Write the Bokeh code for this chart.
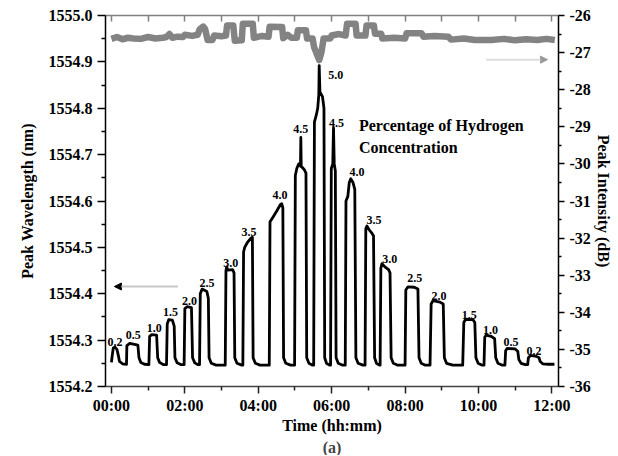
from bokeh.plotting import figure
from bokeh.models import (Range1d, LinearAxis, FixedTicker, PrintfTickFormatter,
                          Arrow, NormalHead)
from bokeh.core.properties import value
from bokeh.embed import file_html
from bokeh.resources import INLINE

FONT = "Liberation Serif"

# ---------------- data ----------------
# Peak wavelength trace (time in hours, wavelength in nm)
black_t = [0.00, 0.02, 0.05, 0.09, 0.15, 0.19, 0.22, 0.30, 0.41,
           0.42, 0.50, 0.72, 0.75, 0.80, 0.90, 1.02,
           1.04, 1.10, 1.23, 1.26, 1.31, 1.42, 1.50,
           1.52, 1.56, 1.66, 1.71, 1.73, 1.79, 1.90, 1.98,
           2.00, 2.06, 2.18, 2.21, 2.27, 2.36, 2.40,
           2.42, 2.47, 2.60, 2.64, 2.66, 2.72, 2.85, 3.10,
           3.12, 3.14, 3.17, 3.30, 3.34, 3.36, 3.42, 3.55, 3.58,
           3.60, 3.63, 3.70, 3.80, 3.84, 3.86, 3.92, 4.05, 4.30,
           4.32, 4.40, 4.50, 4.60, 4.64, 4.67, 4.69, 4.75, 4.88, 4.99,
           5.01, 5.05, 5.10, 5.15, 5.16, 5.17, 5.25, 5.30, 5.32, 5.38, 5.48, 5.51,
           5.53, 5.58, 5.62, 5.65, 5.66, 5.68, 5.75, 5.79, 5.81, 5.86, 5.94, 5.97,
           5.99, 6.03, 6.05, 6.07, 6.10, 6.12, 6.18, 6.30, 6.37,
           6.39, 6.44, 6.48, 6.52, 6.58, 6.63, 6.66, 6.72, 6.85, 6.91,
           6.93, 6.96, 7.02, 7.10, 7.14, 7.17, 7.22, 7.30, 7.32,
           7.34, 7.37, 7.45, 7.55, 7.59, 7.62, 7.68, 7.80, 8.00,
           8.02, 8.08, 8.25, 8.35, 8.38, 8.44, 8.55, 8.68,
           8.71, 8.76, 8.95, 9.04, 9.07, 9.13, 9.30, 9.57,
           9.60, 9.65, 9.85, 9.90, 9.93, 9.99, 10.10, 10.15,
           10.17, 10.21, 10.35, 10.44, 10.47, 10.53, 10.65, 10.72,
           10.74, 10.78, 11.00, 11.07, 11.10, 11.16, 11.28, 11.34,
           11.36, 11.42, 11.58, 11.65, 11.68, 11.75, 11.90, 12.07]
black_wl = [1554.252, 1554.266, 1554.283, 1554.285, 1554.280, 1554.266, 1554.254, 1554.249, 1554.248,
            1554.288, 1554.293, 1554.289, 1554.262, 1554.252, 1554.248, 1554.247,
            1554.308, 1554.312, 1554.311, 1554.262, 1554.252, 1554.247, 1554.247,
            1554.335, 1554.344, 1554.343, 1554.330, 1554.262, 1554.251, 1554.247, 1554.247,
            1554.368, 1554.372, 1554.370, 1554.262, 1554.251, 1554.247, 1554.247,
            1554.400, 1554.410, 1554.405, 1554.390, 1554.262, 1554.250, 1554.246, 1554.246,
            1554.450, 1554.458, 1554.451, 1554.452, 1554.445, 1554.262, 1554.250, 1554.246, 1554.246,
            1554.490, 1554.500, 1554.510, 1554.520, 1554.522, 1554.262, 1554.250, 1554.246, 1554.246,
            1554.555, 1554.565, 1554.578, 1554.592, 1554.594, 1554.585, 1554.262, 1554.250, 1554.246, 1554.246,
            1554.655, 1554.670, 1554.680, 1554.675, 1554.737, 1554.675, 1554.668, 1554.660, 1554.262, 1554.250, 1554.246, 1554.246,
            1554.770, 1554.785, 1554.800, 1554.830, 1554.892, 1554.835, 1554.825, 1554.800, 1554.262, 1554.250, 1554.246, 1554.246,
            1554.670, 1554.680, 1554.758, 1554.680, 1554.665, 1554.262, 1554.250, 1554.246, 1554.246,
            1554.600, 1554.610, 1554.640, 1554.648, 1554.640, 1554.625, 1554.262, 1554.250, 1554.246, 1554.246,
            1554.540, 1554.546, 1554.538, 1554.530, 1554.525, 1554.262, 1554.250, 1554.246, 1554.246,
            1554.455, 1554.465, 1554.458, 1554.452, 1554.445, 1554.262, 1554.250, 1554.246, 1554.246,
            1554.408, 1554.415, 1554.414, 1554.410, 1554.262, 1554.250, 1554.246, 1554.246,
            1554.378, 1554.385, 1554.382, 1554.378, 1554.262, 1554.250, 1554.246, 1554.246,
            1554.338, 1554.345, 1554.344, 1554.338, 1554.262, 1554.250, 1554.246, 1554.246,
            1554.306, 1554.311, 1554.308, 1554.303, 1554.262, 1554.250, 1554.246, 1554.246,
            1554.277, 1554.282, 1554.281, 1554.276, 1554.258, 1554.250, 1554.247, 1554.247,
            1554.262, 1554.267, 1554.265, 1554.262, 1554.254, 1554.249, 1554.248, 1554.248]

# Peak intensity trace (time in hours, intensity in dB)
gray_t = [0.00, 0.15, 0.30, 0.45, 0.60, 0.80, 1.00, 1.20, 1.40, 1.50, 1.58, 1.66, 1.80,
          1.95, 2.00, 2.20, 2.35, 2.40, 2.50, 2.55,
          2.62, 2.75, 2.80, 3.00, 3.12, 3.15, 3.32, 3.36, 3.55, 3.58, 3.85, 3.88, 4.10, 4.28,
          4.31, 4.65, 4.68, 4.80, 4.90, 5.05, 5.08, 5.30, 5.33, 5.48, 5.52, 5.60, 5.66, 5.72,
          5.78, 5.96, 6.00, 6.20, 6.38, 6.42, 6.65, 6.68, 6.92, 6.95, 7.15, 7.18, 7.35,
          7.38, 7.70, 8.00, 8.04, 8.45, 8.50, 8.80, 9.18, 9.25, 9.60, 9.90, 10.35, 10.70,
          11.00, 11.30, 11.60, 11.85, 12.08]
gray_db = [-26.63, -26.58, -26.64, -26.60, -26.62, -26.63, -26.58, -26.62, -26.60, -26.58, -26.50, -26.60, -26.57,
           -26.58, -26.52, -26.55, -26.52, -26.38, -26.30, -26.36,
           -26.66, -26.66, -26.54, -26.56, -26.54, -26.27, -26.27, -26.68, -26.67, -26.22, -26.22, -26.60, -26.55, -26.57,
           -26.30, -26.31, -26.61, -26.52, -26.60, -26.60, -26.40, -26.40, -26.62, -26.62, -26.85, -27.05, -27.20, -27.00,
           -26.62, -26.62, -26.54, -26.50, -26.54, -26.22, -26.22, -26.54, -26.54, -26.27, -26.27, -26.49, -26.49,
           -26.62, -26.60, -26.62, -26.48, -26.48, -26.57, -26.55, -26.57, -26.65, -26.62, -26.66, -26.66, -26.63,
           -26.67, -26.64, -26.66, -26.63, -26.66]

# Hydrogen concentration labels (%)
conc_text = ["0.2", "0.5", "1.0", "1.5", "2.0", "2.5", "3.0", "3.5", "4.0", "4.5", "5.0",
             "4.5", "4.0", "3.5", "3.0", "2.5", "2.0", "1.5", "1.0", "0.5", "0.2"]
conc_t = [0.095, 0.596, 1.165, 1.612, 2.126, 2.600, 3.250, 3.751, 4.591, 5.160, 6.108,
          6.135, 6.690, 7.151, 7.584, 8.261, 8.925, 9.751, 10.328, 10.889, 11.512]
conc_wl = [1554.295, 1554.310, 1554.327, 1554.360, 1554.385, 1554.424, 1554.467, 1554.534,
           1554.612, 1554.756, 1554.871, 1554.769, 1554.662, 1554.558, 1554.476, 1554.433,
           1554.396, 1554.355, 1554.321, 1554.295, 1554.276]

note_text = ["Percentage of Hydrogen", "Concentration"]
note_t = [6.744, 6.744]
note_wl = [1554.763, 1554.716]

x_major = [0, 2, 4, 6, 8, 10, 12]
x_minor = [1, 3, 5, 7, 9, 11]
x_labels = ["00:00", "02:00", "04:00", "06:00", "08:00", "10:00", "12:00"]
top_ticks = [0, 1, 2, 3, 4, 5, 6, 7, 8, 9, 10, 11, 12]
wl_major = [1554.2, 1554.3, 1554.4, 1554.5, 1554.6, 1554.7, 1554.8, 1554.9, 1555.0]
wl_minor = [1554.25, 1554.35, 1554.45, 1554.55, 1554.65, 1554.75, 1554.85, 1554.95]
db_major = [-36, -35, -34, -33, -32, -31, -30, -29, -28, -27, -26]
db_minor = [-35.5, -34.5, -33.5, -32.5, -31.5, -30.5, -29.5, -28.5, -27.5, -26.5]

# arrows: (t_start, t_end, level)
left_arrow = (1.81, 0.08, 1554.4156)
right_arrow = (10.21, 11.88, -27.19)

# ---------------- figure ----------------
p = figure(width=614, height=455, output_backend="svg", toolbar_location=None,
           x_range=Range1d(-0.162, 12.18), y_range=Range1d(1554.2, 1555.0),
           title="(a)", title_location="below",
           min_border_left=105, min_border_right=53, min_border_top=15, min_border_bottom=66)
p.outline_line_color = None
p.xgrid.visible = False
p.ygrid.visible = False
p.background_fill_color = "white"
p.border_fill_color = "white"

p.title.align = "center"
p.title.text_font = FONT
p.title.text_font_size = "16px"
p.title.text_font_style = "bold"
p.title.standoff = 0
p.title.offset = 0

p.extra_y_ranges = {"right": Range1d(-36, -26)}

# bottom axis
xa = p.xaxis[0]
xa.ticker = FixedTicker(ticks=x_major, minor_ticks=x_minor)
xa.major_label_overrides = {k: v for k, v in zip(x_major, x_labels)}
xa.axis_label = "Time (hh:mm)"

# left axis
ya = p.yaxis[0]
ya.ticker = FixedTicker(ticks=wl_major, minor_ticks=wl_minor)
ya.formatter = PrintfTickFormatter(format="%.1f")
ya.axis_label = "Peak Wavelength (nm)"

# right axis
ra = LinearAxis(y_range_name="right", axis_label="Peak Intensity (dB)")
ra.ticker = FixedTicker(ticks=db_major, minor_ticks=db_minor)
ra.formatter = PrintfTickFormatter(format="%d")
p.add_layout(ra, "right")

# top axis (ticks only)
ta = LinearAxis()
ta.ticker = FixedTicker(ticks=top_ticks, minor_ticks=[])
ta.major_label_overrides = {k: "" for k in top_ticks}
p.add_layout(ta, "above")

for ax in (xa, ya, ra):
    ax.major_label_text_font = FONT
    ax.major_label_text_font_size = "16px"
    ax.major_label_text_font_style = "bold"
    ax.major_label_text_color = "black"
    ax.axis_label_text_font = FONT
    ax.axis_label_text_font_size = "16px"
    ax.axis_label_text_font_style = "bold"
    ax.axis_label_text_color = "black"
    ax.axis_line_width = 1.5
    ax.major_tick_line_width = 1.5
    ax.minor_tick_line_width = 1.5
    ax.major_tick_in = 0
    ax.minor_tick_in = 0

xa.axis_line_color = "#444444"
xa.major_tick_line_color = "#222222"
xa.minor_tick_line_color = "#222222"
xa.major_tick_out = 7
xa.minor_tick_out = 4
xa.major_label_standoff = 3
xa.axis_label_standoff = 0

ya.axis_line_color = "black"
ya.major_tick_out = 8
ya.minor_tick_out = 4
ya.major_label_standoff = 5
ya.axis_label_standoff = 10

ra.axis_line_color = "black"
ra.major_tick_out = 6
ra.minor_tick_out = 3
ra.major_label_standoff = 5
ra.axis_label_standoff = 1

ta.axis_line_color = "#808080"
ta.axis_line_width = 1.5
ta.major_tick_line_color = "#808080"
ta.major_tick_line_width = 1.5
ta.major_tick_in = 6
ta.major_tick_out = 0
ta.major_label_text_font_size = "1px"
ta.major_label_standoff = 0

# traces
p.line(gray_t, gray_db, y_range_name="right", line_color="#838383", line_width=6.5,
       line_join="round")
p.line(black_t, black_wl, line_color="black", line_width=2.8, line_join="round")

# concentration labels
p.text(x=conc_t, y=conc_wl, text=conc_text, text_font=value(FONT), text_font_size="12px",
       text_font_style="bold", text_align="center", text_baseline="alphabetic",
       text_color="black")
p.text(x=note_t, y=note_wl, text=note_text, text_font=value(FONT), text_font_size="16px",
       text_font_style="bold", text_align="left", text_baseline="alphabetic",
       text_color="black")

# arrows
p.add_layout(Arrow(end=NormalHead(size=7, fill_color="black", line_color="black"),
                   x_start=left_arrow[0], y_start=left_arrow[2],
                   x_end=left_arrow[1], y_end=left_arrow[2],
                   line_color="#c8c8c8", line_width=2))
p.add_layout(Arrow(end=NormalHead(size=7, fill_color="#9a9a9a", line_color="#9a9a9a"),
                   x_start=right_arrow[0], y_start=right_arrow[2],
                   x_end=right_arrow[1], y_end=right_arrow[2], y_range_name="right",
                   line_color="#dedede", line_width=2))

open("out.html", "w").write(file_html(p, INLINE))
